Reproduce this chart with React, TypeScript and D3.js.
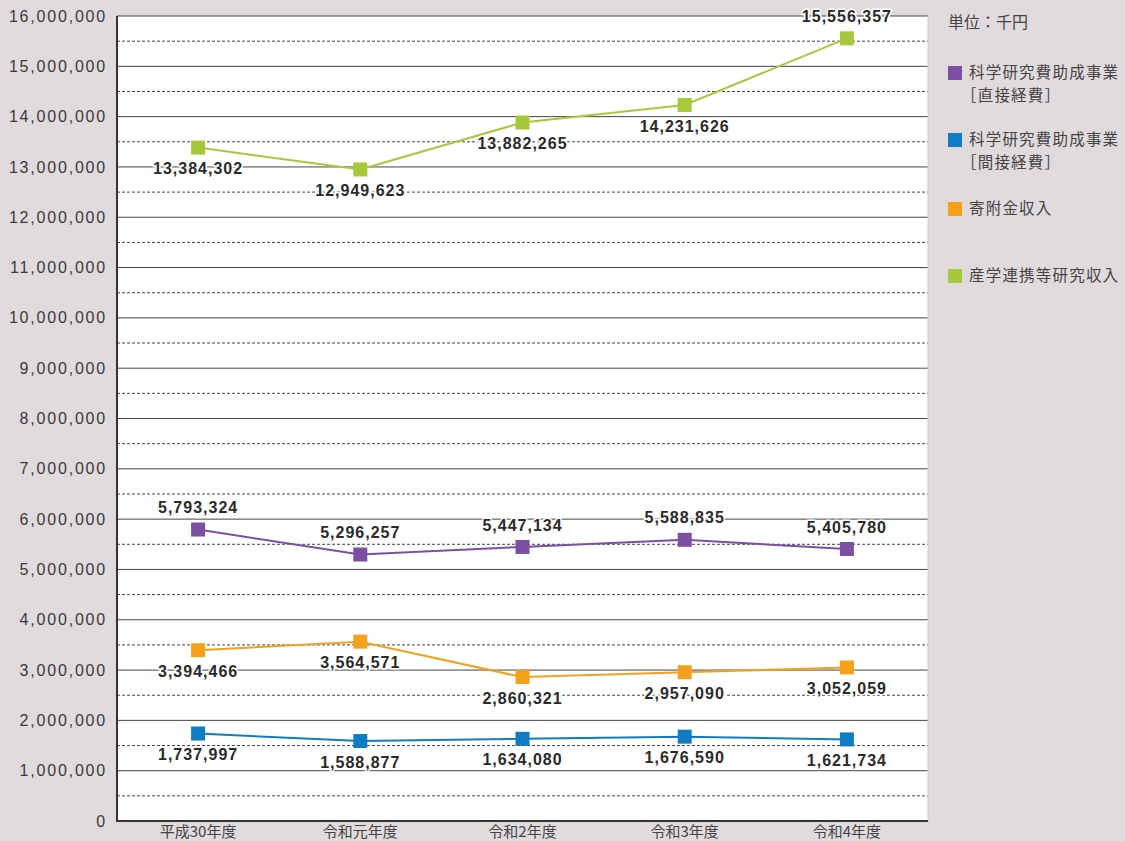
import React from 'react';
import * as d3 from 'd3';

// data (千円)
const years = ['平成30年度', '令和元年度', '令和2年度', '令和3年度', '令和4年度'];
const directCosts = [5793324, 5296257, 5447134, 5588835, 5405780];
const indirectCosts = [1737997, 1588877, 1634080, 1676590, 1621734];
const donations = [3394466, 3564571, 2860321, 2957090, 3052059];
const industryCollab = [13384302, 12949623, 13882265, 14231626, 15556357];
const yTicks = d3.range(0, 16000001, 1000000);
const halfTicks = d3.range(500000, 16000000, 1000000);

const SERIES = [
  { name: ['科学研究費助成事業', '［直接経費］'], values: directCosts, color: '#7b4fa2', labelPos: ['up', 'up', 'up', 'up', 'up'] },
  { name: ['科学研究費助成事業', '［間接経費］'], values: indirectCosts, color: '#0f7cc4', labelPos: ['down', 'down', 'down', 'down', 'down'] },
  { name: ['寄附金収入'], values: donations, color: '#f5a11c', labelPos: ['down', 'down', 'down', 'down', 'down'] },
  { name: ['産学連携等研究収入'], values: industryCollab, color: '#a5c93a', labelPos: ['down', 'down', 'down', 'down', 'up'] },
];

const W = 1125;
const H = 841;
const M = { left: 117, right: 928, top: 16, bottom: 821 };
const JP = '"Noto Sans CJK JP", "Noto Sans", sans-serif';
const NUM = '"Liberation Sans", Arial, sans-serif';

const App: React.FC = () => {
  const x = d3.scaleBand<string>().domain(years).range([M.left, M.right]);
  const y = d3.scaleLinear().domain([0, 16000000]).range([M.bottom, M.top]);
  const fmt = d3.format(',');
  const line = d3.line<number>()
    .x((_, i) => x(years[i])! + x.bandwidth() / 2)
    .y(d => y(d));

  const legendY = [73, 140, 209, 276];

  return (
    <svg width={W} height={H} style={{ position: 'absolute', left: 0, top: 0, display: 'block' }}>
      <rect width={W} height={H} fill="#e1dbdd" />
      <rect x={M.left} y={M.top} width={M.right - M.left} height={M.bottom - M.top} fill="#fff" />

      {/* grid */}
      {halfTicks.map(t => (
        <line key={'h' + t} x1={M.left} x2={M.right} y1={y(t)} y2={y(t)} stroke="#444" strokeWidth={1} strokeDasharray="3,2" />
      ))}
      {yTicks.map(t => (
        <line key={'g' + t} x1={M.left} x2={M.right} y1={y(t)} y2={y(t)} stroke="#444" strokeWidth={1} />
      ))}
      <line x1={M.right} x2={M.right} y1={M.top} y2={M.bottom} stroke="#ccc" />
      <line x1={M.left} x2={M.left} y1={M.top} y2={M.bottom + 1} stroke="#333" strokeWidth={2} />
      <line x1={M.left} x2={M.right} y1={M.bottom} y2={M.bottom} stroke="#333" strokeWidth={2} />

      {/* y tick labels */}
      {yTicks.map(t => (
        <text key={'yt' + t} x={107} y={y(t)} dy="0.35em" textAnchor="end" fontFamily={NUM} fontSize={16} letterSpacing={1.8} fill="#3a3a3a">
          {fmt(t)}
        </text>
      ))}

      {/* x labels */}
      {years.map(yr => (
        <text key={yr} x={x(yr)! + x.bandwidth() / 2} y={832} dy="0.35em" textAnchor="middle" fontFamily={JP} fontSize={15} fill="#444">
          {yr}
        </text>
      ))}

      {/* series */}
      {SERIES.map((s, si) => (
        <g key={si}>
          <path d={line(s.values) || undefined} fill="none" stroke={s.color} strokeWidth={2} />
          {s.values.map((v, i) => {
            const cx = x(years[i])! + x.bandwidth() / 2;
            return (
              <rect key={i} x={cx - 7} y={y(v) - 7} width={14} height={14} fill={s.color} />
            );
          })}
        </g>
      ))}
      {SERIES.map((s, si) => (
        <g key={'l' + si}>
          {s.values.map((v, i) => {
            const cx = x(years[i])! + x.bandwidth() / 2;
            const ly = y(v) + (s.labelPos[i] === 'up' ? -22 : 21);
            return (
              <text key={i} x={cx} y={ly} dy="0.35em" textAnchor="middle" fontFamily={NUM} fontSize={16} fontWeight="bold" letterSpacing={1} fill="#2a2a2a" stroke="#fff" strokeWidth={3} paintOrder="stroke" strokeLinejoin="round">
                {fmt(v)}
              </text>
            );
          })}
        </g>
      ))}

      {/* legend */}
      <text x={948} y={22} dy="0.35em" fontFamily={JP} fontSize={16} fill="#444">単位：千円</text>
      {SERIES.map((s, si) => (
        <g key={'lg' + si}>
          <rect x={948} y={legendY[si] - 7} width={14} height={14} fill={s.color} />
          {s.name.map((n, j) => (
            <text key={j} x={n.startsWith('［') ? 961 : 969} y={legendY[si] + j * 23} dy="0.35em" fontFamily={JP} fontSize={15.5} letterSpacing={1.2} fill="#444">
              {n}
            </text>
          ))}
        </g>
      ))}
    </svg>
  );
};

export default App;
